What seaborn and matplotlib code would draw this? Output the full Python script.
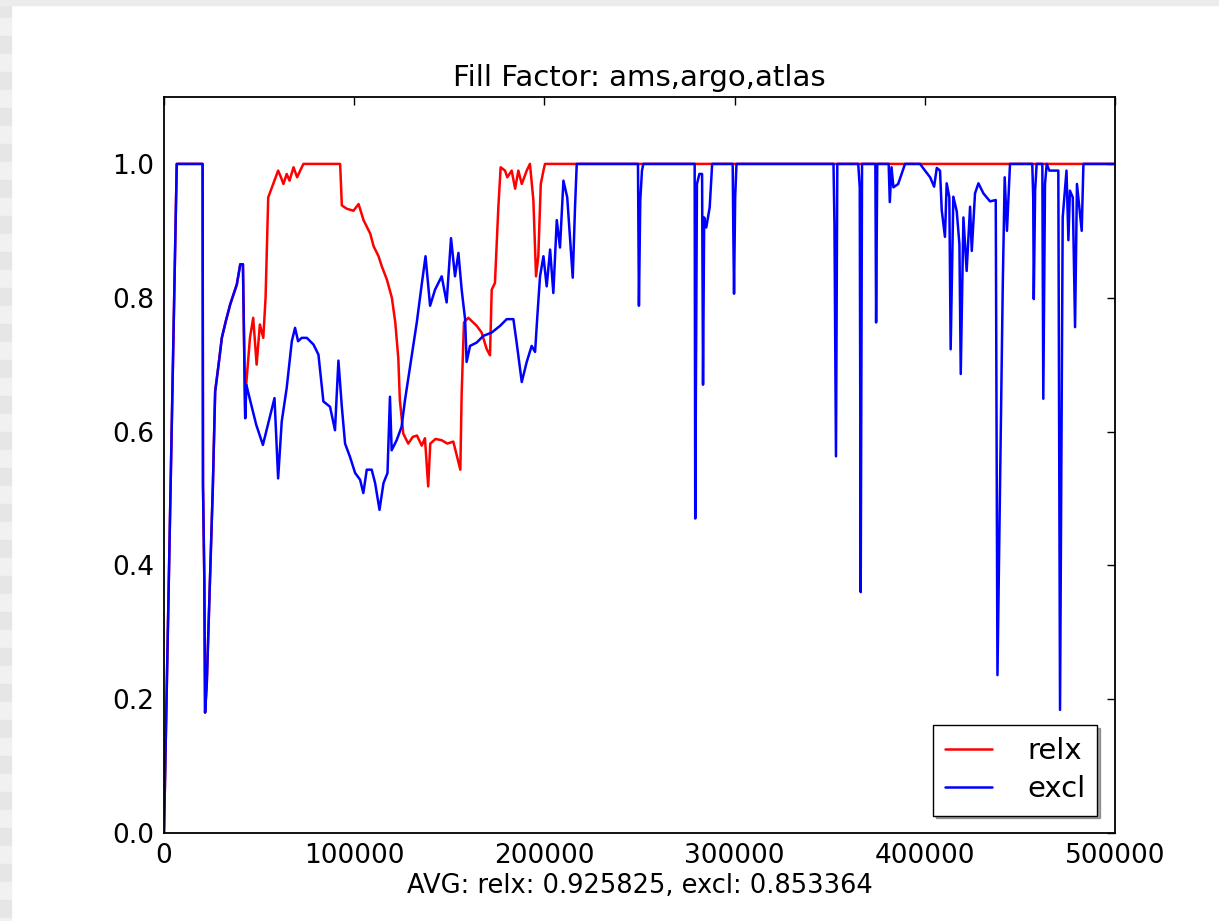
import numpy as np
import pandas as pd
import matplotlib
matplotlib.use('Agg')
import matplotlib.pyplot as plt
import seaborn as sns
from matplotlib.patches import Rectangle

# данные, x в тысячах
relx_x = [0, 6.7, 20.3, 20.5, 20.9, 21.2, 21.6, 22.5, 24.3, 25.7,
          26.9, 28.7, 30.4, 32.5, 34.8, 38.3, 40.1, 41.5, 42.7,
          43.2, 45.2, 46.9, 48.7, 50.4, 52.2, 53.4, 54.8, 57.4, 60.0,
          61.5, 62.8, 64.5, 66.0, 68.1, 70.0, 71.6, 73.3,
          92.6, 93.5, 96.1, 99.6, 102.3, 104.9, 108.4, 110.2, 112.8, 114.5,
          117.2, 119.8, 121.6, 123.2, 124.0, 125.8, 128.4, 130.8, 133.0, 135.5,
          137.2, 138.9, 140.0, 142.8, 146.0, 149.0, 152.1, 155.8, 156.5, 157.7,
          160.0, 164.4, 167.0, 169.7, 171.4, 172.3, 174.0, 175.8, 177.0, 179.3,
          180.5, 182.8, 184.6, 186.3, 188.1, 190.7, 192.4, 194.2, 195.6, 196.8,
          198.1, 199.5, 200.3, 500.0]
relx_y = [0.0, 1.0, 1.0, 0.52, 0.44, 0.38, 0.18, 0.224, 0.39, 0.52,
          0.66, 0.70, 0.74, 0.765, 0.79, 0.82, 0.85, 0.85, 0.62,
          0.67, 0.74, 0.77, 0.70, 0.76, 0.74, 0.80, 0.95, 0.97, 0.99,
          0.98, 0.97, 0.985, 0.975, 0.995, 0.98, 0.99, 1.0,
          1.0, 0.938, 0.933, 0.93, 0.94, 0.916, 0.896, 0.877, 0.862, 0.847,
          0.827, 0.80, 0.763, 0.709, 0.647, 0.597, 0.582, 0.592, 0.594, 0.579,
          0.59, 0.518, 0.582, 0.589, 0.587, 0.582, 0.585, 0.543, 0.657, 0.763,
          0.77, 0.758, 0.748, 0.723, 0.714, 0.812, 0.822, 0.936, 0.995, 0.99,
          0.98, 0.99, 0.963, 0.99, 0.97, 0.99, 1.0, 0.946, 0.832, 0.862,
          0.97, 0.99, 1.0, 1.0]

excl_x = [0, 6.7, 20.3, 20.5, 20.9, 21.2, 21.6, 22.5, 24.3, 25.7,
          26.9, 28.7, 30.4, 32.5, 34.8, 38.3, 40.1, 41.5, 42.7,
          43.3, 45.0, 48.5, 52.0, 55.5, 58.1, 60.0,
          61.9, 64.5, 67.2, 68.9, 70.5, 72.4, 75.1, 78.6, 81.2, 83.8,
          87.3, 89.9, 91.7, 93.5, 95.2, 97.8, 100.5, 103.1, 104.8, 106.6,
          109.2, 111.0, 113.3, 115.4, 117.5, 118.8, 119.7, 122.3, 124.9, 126.7,
          129.3, 132.9,
          135.6, 137.5, 139.9, 142.5, 146.0, 148.6, 150.9, 153.0, 154.8, 156.5,
          158.3, 159.1, 160.9, 164.4, 167.9, 172.3, 176.7, 180.2, 183.7, 185.4,
          188.1, 190.7, 193.3, 195.1, 196.3, 197.7, 199.5, 201.2, 203.0, 204.7,
          206.5, 208.2, 210.0, 212.0, 214.9, 216.1, 217.0,
          249.2, 249.7, 250.4, 251.3, 252.0,
          279.0, 279.3, 280.2, 281.5, 282.9, 283.4, 284.0, 285.1, 286.9, 288.2,
          299.0, 299.3, 299.7, 300.3, 301.0,
          352.0, 352.5, 353.3, 354.0,
          365.0, 365.8, 366.3, 367.0,
          374.0, 374.4, 375.0,
          381.0, 381.6, 382.5, 383.5, 386.0, 389.6,
          397.5, 400.1, 402.8, 404.9, 406.3, 408.0, 408.9, 410.6, 411.5, 412.9,
          413.6, 415.0, 416.8, 418.2, 418.9, 420.3, 422.0, 423.8, 424.7, 426.4,
          428.2, 430.8, 434.3, 437.3, 438.2, 441.0, 442.0, 443.2, 444.8,
          456.5, 457.0, 457.3, 458.0, 458.8, 461.8, 462.3, 463.2, 464.1, 465.5,
          468.0, 470.2, 471.1, 472.5, 474.5, 475.5, 476.3, 477.8, 479.0, 480.0,
          482.5, 483.4, 500.0]
excl_y = [0.0, 1.0, 1.0, 0.52, 0.44, 0.38, 0.18, 0.224, 0.39, 0.52,
          0.66, 0.70, 0.74, 0.765, 0.79, 0.82, 0.85, 0.85, 0.62,
          0.67, 0.65, 0.61, 0.58, 0.62, 0.65, 0.53,
          0.615, 0.665, 0.735, 0.755, 0.735, 0.74, 0.74, 0.73, 0.715, 0.645,
          0.637, 0.602, 0.706, 0.637, 0.582, 0.562, 0.538, 0.528, 0.508, 0.543,
          0.543, 0.523, 0.483, 0.523, 0.538, 0.652, 0.572, 0.587, 0.607, 0.647,
          0.696, 0.763,
          0.822, 0.862, 0.788, 0.812, 0.832, 0.793, 0.889, 0.832, 0.867, 0.812,
          0.768, 0.704, 0.728, 0.733, 0.743, 0.748, 0.758, 0.768, 0.768, 0.733,
          0.674, 0.704, 0.728, 0.719, 0.773, 0.832, 0.862, 0.817, 0.872, 0.807,
          0.916, 0.875, 0.975, 0.95, 0.83, 0.935, 1.0,
          1.0, 0.788, 0.945, 0.99, 1.0,
          1.0, 0.47, 0.97, 0.985, 0.985, 0.67, 0.92, 0.905, 0.935, 1.0,
          1.0, 0.905, 0.806, 0.95, 1.0,
          1.0, 0.91, 0.563, 1.0,
          1.0, 0.965, 0.36, 1.0,
          1.0, 0.763, 1.0,
          1.0, 0.943, 0.995, 0.965, 0.97, 1.0,
          1.0, 0.99, 0.98, 0.966, 0.994, 0.99, 0.931, 0.891, 0.971, 0.95,
          0.723, 0.951, 0.929, 0.88, 0.686, 0.92, 0.84, 0.936, 0.87, 0.956,
          0.971, 0.956, 0.944, 0.946, 0.236, 0.82, 0.98, 0.90, 1.0,
          1.0, 0.95, 0.798, 0.96, 1.0, 1.0, 0.649, 0.97, 1.0, 0.99,
          0.99, 0.99, 0.184, 0.92, 0.99, 0.886, 0.96, 0.95, 0.756, 0.97,
          0.90, 1.0, 1.0]

title = 'Fill Factor: ams,argo,atlas'
avg_text = 'AVG: relx: 0.925825, excl: 0.853364'

assert len(relx_x) == len(relx_y)
assert len(excl_x) == len(excl_y)

relx = pd.DataFrame({'x': np.array(relx_x) * 1000, 'y': relx_y})
excl = pd.DataFrame({'x': np.array(excl_x) * 1000, 'y': excl_y})

sns.set_style('white')
plt.rcParams['font.family'] = ['DejaVu Sans']
plt.rcParams['text.color'] = 'black'
plt.rcParams['axes.labelcolor'] = 'black'
plt.rcParams['xtick.color'] = 'black'
plt.rcParams['ytick.color'] = 'black'

fig = plt.figure(figsize=(12.19, 9.21), dpi=100)
fig.patch.set_facecolor('white')

# серая полоса слева (клетчатый фон скриншота)
for i in range(0, 921, 18):
    shade = '#e6e6e6' if (i // 18) % 2 == 0 else '#f1f1f1'
    fig.patches.append(Rectangle((0, 1 - (i + 18) / 921), 11 / 1219, 18 / 921,
                                 transform=fig.transFigure, color=shade, zorder=-5))
fig.patches.append(Rectangle((0, 1 - 5 / 921), 1, 5 / 921,
                             transform=fig.transFigure, color='#ececec', zorder=-5))

ax = fig.add_axes([164 / 1219, 1 - 833 / 921, 951 / 1219, 736 / 921])

sns.lineplot(data=relx, x='x', y='y', color='red', label='relx', ax=ax,
             linewidth=1.8, estimator=None, sort=False)
sns.lineplot(data=excl, x='x', y='y', color='blue', label='excl', ax=ax,
             linewidth=1.8, estimator=None, sort=False)

ax.set_xlim(0, 500000)
ax.set_ylim(0, 1.1)
ax.set_xticks(np.arange(0, 500001, 100000))
ax.set_yticks(np.arange(0, 1.01, 0.2))
ax.set_yticklabels([f'{v:.1f}' for v in np.arange(0, 1.01, 0.2)])
ax.set_xticklabels([str(v) for v in range(0, 500001, 100000)])
ax.tick_params(direction='in', top=True, right=True, length=6, width=1,
               labelsize=19, pad=7)
for s in ax.spines.values():
    s.set_color('black')
    s.set_linewidth(1.3)

ax.set_title(title, fontsize=21, pad=8)
ax.set_xlabel(avg_text, fontsize=18.5, labelpad=3)
ax.set_ylabel('')

ax.legend(loc='lower right', shadow=True, fancybox=False, framealpha=1,
          edgecolor='black', fontsize=21, handlelength=1.6, handletextpad=1.2,
          labelspacing=0.35, borderpad=0.42, borderaxespad=0.6)

plt.savefig('out.png', dpi=100)
